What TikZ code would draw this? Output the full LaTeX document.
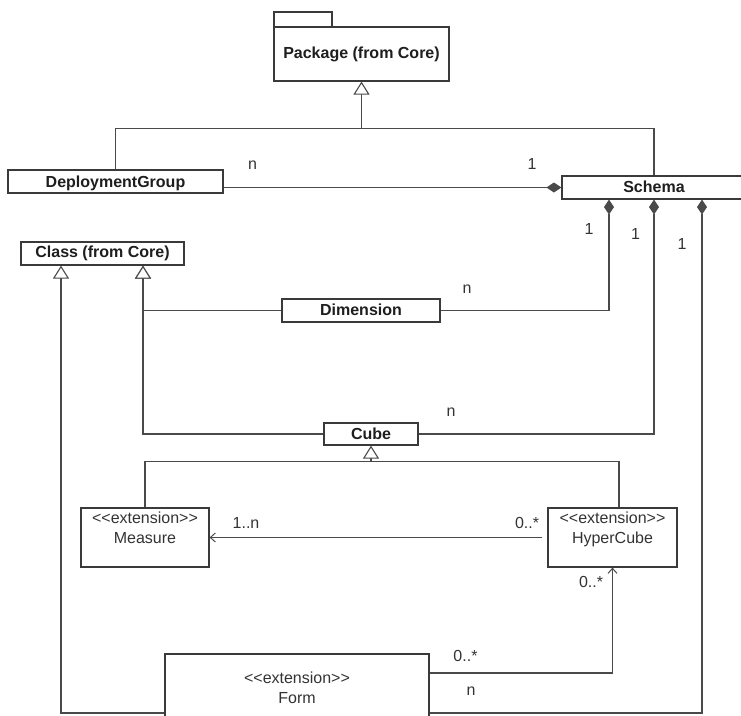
\documentclass[tikz,border=0pt]{standalone}
\usepackage{fontspec}
\setmainfont{Liberation Sans}
\usetikzlibrary{arrows.meta}
\definecolor{linec}{HTML}{4A4A4A}
\definecolor{boxc}{HTML}{3A3A3A}
\definecolor{textc}{HTML}{1E1E1E}
\definecolor{plainc}{HTML}{333333}
% stereotype guillemets written as two separate angle brackets
\newcommand\umlst[1]{<\kern0pt<#1>\kern0pt>}
\tikzset{
  box/.style={draw=boxc, line width=1.2pt, fill=white, inner sep=0pt},
  title/.style={font=\fontsize{16}{19}\selectfont\bfseries, text=textc, anchor=base, inner sep=0pt},
  plain/.style={font=\fontsize{16}{19}\selectfont, text=plainc, anchor=base, inner sep=0pt},
  conn/.style={draw=linec, line width=1.1pt},
  gen/.style={conn, -{Triangle[open, length=13pt, width=16pt, fill=white]}},
  comp/.style={conn, {Diamond[length=15pt, width=10pt, fill=linec]}-},
  assoc/.style={conn, -{Straight Barb[length=5pt, width=9pt, line width=1pt]}},
}
\begin{document}
\begin{tikzpicture}[x=1pt, y=-1pt]
\useasboundingbox (0,0) rectangle (741,715);
\clip (0,0) rectangle (741,715);

% class and package boxes
\node[box, minimum width=58pt, minimum height=15pt] (pkgtab) at (303,19.5) {};
\node[box, minimum width=175pt, minimum height=54pt] (pkg) at (361.5,54) {};
\node[box, minimum width=215pt, minimum height=23pt] (dg) at (115.5,181.5) {};
\node[box, minimum width=184pt, minimum height=23pt] (schema) at (654,187.5) {};
\node[box, minimum width=163pt, minimum height=23pt] (cls) at (102.5,253.5) {};
\node[box, minimum width=158pt, minimum height=23pt] (dim) at (361,310.5) {};
\node[box, minimum width=94pt, minimum height=22pt] (cube) at (371,434) {};
\node[box, minimum width=128pt, minimum height=59pt] (measure) at (145,537.5) {};
\node[box, minimum width=129pt, minimum height=59pt] (hyper) at (612.5,537.5) {};
\node[box, minimum width=264pt, minimum height=68pt] (form) at (297,688) {};

% box texts
\node[title] (pkgt) at (361.5,58.3) {Package (from Core)};
\node[title] (dgt) at (115.5,187) {DeploymentGroup};
\node[title] (schemat) at (654,192) {Schema};
\node[title] (clst) at (102.5,257) {Class (from Core)};
\node[title] (dimt) at (361,315.5) {Dimension};
\node[title] (cubet) at (371,439) {Cube};
\node[plain] (measurest) at (145,523) {\umlst{extension}};
\node[plain] (measuret) at (145,543) {Measure};
\node[plain] (hyperst) at (612.5,523) {\umlst{extension}};
\node[plain] (hypert) at (612.5,543) {HyperCube};
\node[plain] (formst) at (297,683) {\umlst{extension}};
\node[plain] (formt) at (297,703) {Form};

% helper points
\path (pkg.south) ++(0,47) coordinate (pj);
\path (cube.south) ++(0,16) coordinate (cj);
\coordinate (s1) at ([xshift=-45pt]schema.south);
\coordinate (s2) at (schema.south);
\coordinate (s3) at ([xshift=48pt]schema.south);
\coordinate (c1) at ([xshift=-41.5pt]cls.south);
\coordinate (c2) at ([xshift=40.5pt]cls.south);
\coordinate (hn) at ([xshift=6.5pt]hyper.north);
\coordinate (bot) at (0,713);
\coordinate (fy) at (0,673);

% generalizations
\draw[gen] (dg.north) |- (pj) -- (pkg.south);
\draw[conn] (schema.north) |- (pj);
\draw[gen] (dim.west) -| (c2);
\draw[gen] (cube.west) -| (c2);
\draw[gen] (form.west |- bot) -| (c1);
\draw[gen] (measure.north) |- (cj) -- (cube.south);
\draw[conn] (hn) |- (cj);

% compositions
\draw[comp] (schema.west) -- (schema.west -| dg.east);
\draw[comp] (s1) |- (dim.east);
\draw[comp] (s2) |- (cube.east);
\draw[comp] (s3) |- (form.east |- bot);

% associations
\draw[assoc, shorten <=5pt] (hyper.west) -- (measure.east);
\draw[assoc] (form.east |- fy) -| (hyper.south);

% multiplicities
\node[plain] (m1) at (252.5,169) {n};
\node[plain] (m2) at (532,169) {1};
\node[plain] (m3) at (589,234) {1};
\node[plain] (m4) at (635.5,239) {1};
\node[plain] (m5) at (682,249) {1};
\node[plain] (m6) at (467,293) {n};
\node[plain] (m7) at (451,416) {n};
\node[plain] (m8) at (246,528) {1..n};
\node[plain] (m9) at (527,528) {0..*};
\node[plain] (m10) at (591,587) {0..*};
\node[plain] (m11) at (465.5,661) {0..*};
\node[plain] (m12) at (471,695) {n};
\end{tikzpicture}
\end{document}
